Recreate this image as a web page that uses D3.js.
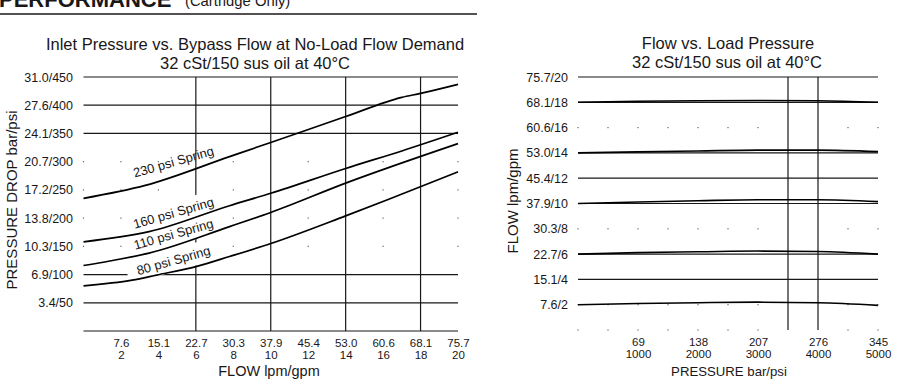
<!DOCTYPE html>
<html>
<head>
<meta charset="utf-8">
<script src="https://cdn.jsdelivr.net/npm/d3@7"></script>
<style>
  body { margin: 0; background: #fff; }
  svg { display: block; font-family: "Liberation Sans", Arial, Helvetica, sans-serif; }
</style>
</head>
<body>
<div id="chart"></div>
<script>
// tick values / labels
const flowGpm = [2, 4, 6, 8, 10, 12, 14, 16, 18, 20];
const flowLpm = ["7.6", "15.1", "22.7", "30.3", "37.9", "45.4", "53.0", "60.6", "68.1", "75.7"];
const dropPsi = [50, 100, 150, 200, 250, 300, 350, 400, 450];
const dropBar = ["3.4", "6.9", "10.3", "13.8", "17.2", "20.7", "24.1", "27.6", "31.0"];
const loadPsi = [1000, 2000, 3000, 4000, 5000];
const loadBar = ["69", "138", "207", "276", "345"];

// left chart: [flow gpm, pressure drop psi]
const springNames = ["230 psi Spring", "160 psi Spring", "110 psi Spring", "80 psi Spring"];
const spring230 = [[0, 235], [3.3, 258], [7.8, 309], [10, 334], [14, 380], [17, 414], [18, 421], [20, 437]];
const spring160 = [[0, 158], [3.5, 176], [7.8, 222], [10, 244], [14, 288], [17, 319], [20, 352]];
const spring110 = [[0, 116], [1.4, 124], [3.5, 138], [7.8, 185], [10, 210], [14, 262], [20, 332]];
const spring80 = [[0, 80], [2.6, 90], [3.9, 99], [6.1, 115], [7.8, 132], [10, 155], [14, 204], [16.2, 232], [20, 282]];

// right chart: [load pressure psi, flow gpm]
const flow18 = [[0, 18.0], [1000, 18.08], [2000, 18.12], [3000, 18.14], [4000, 18.12], [5000, 18.0]];
const flow14 = [[0, 14.0], [1000, 14.08], [2000, 14.15], [3000, 14.22], [4000, 14.22], [5000, 14.1]];
const flow10 = [[0, 10.0], [1000, 10.12], [2000, 10.22], [3000, 10.3], [4000, 10.3], [5000, 10.15]];
const flow6 = [[0, 6.0], [1000, 6.12], [2000, 6.18], [3000, 6.24], [4000, 6.2], [5000, 6.0]];
const flow2 = [[0, 2.0], [1000, 2.1], [2000, 2.16], [3000, 2.2], [4000, 2.16], [5000, 1.95]];

const W = 898, H = 379;
const ink = "#1a1718";

const svg = d3.select("#chart").append("svg")
  .attr("width", W)
  .attr("height", H);

// header (cut off at top of the page, as in the source)
svg.append("text")
  .attr("x", -1).attr("y", 6.5)
  .attr("font-size", 22).attr("font-weight", "bold")
  .attr("fill", ink)
  .text("PERFORMANCE");
svg.append("text")
  .attr("x", 185).attr("y", 6)
  .attr("font-size", 14.8)
  .attr("fill", ink)
  .text("(Cartridge Only)");

svg.append("line")
  .attr("x1", 0).attr("x2", 477)
  .attr("y1", 14).attr("y2", 14)
  .attr("stroke", ink).attr("stroke-width", 1.5);

function grid(g, x, y, solidRows, dotRows, vLines, dotStep) {
  const [x0, x1] = x.domain();
  const [y0, y1] = y.domain();
  g.selectAll(".hrow").data(solidRows).enter().append("line")
    .attr("x1", x(x0)).attr("x2", x(x1))
    .attr("y1", d => y(d)).attr("y2", d => y(d))
    .attr("stroke", ink).attr("stroke-width", 1.2);
  g.selectAll(".vcol").data(vLines).enter().append("line")
    .attr("x1", d => x(d)).attr("x2", d => x(d))
    .attr("y1", y(y0)).attr("y2", y(y1))
    .attr("stroke", ink).attr("stroke-width", 1.2);
  const dots = [];
  dotRows.forEach(r => d3.range(x0, x1 + 1e-9, dotStep).forEach(c => {
    if (!vLines.includes(c)) dots.push([c, r]);
  }));
  g.selectAll(".dot").data(dots).enter().append("rect")
    .attr("x", d => x(d[0]) - 0.6).attr("y", d => y(d[1]) - 0.6)
    .attr("width", 1.2).attr("height", 1.2)
    .attr("fill", "#666");
}

function styleAxis(g) {
  g.attr("font-family", null).attr("font-size", 12.5);
  g.select(".domain").remove();
  g.selectAll(".tick line").remove();
  g.selectAll(".tick text").attr("fill", ink);
}

function twoLineX(g, top, bottom) {
  g.attr("font-size", 11.5);
  g.selectAll(".tick text").each(function (d, i) {
    const t = d3.select(this).attr("y", 0).attr("dy", null).text(null);
    t.append("tspan").attr("x", 0).attr("y", 15.5).text(top[i]);
    t.append("tspan").attr("x", 0).attr("y", 28).text(bottom[i]);
  });
}

// ---------- left chart ----------
const xL = d3.scaleLinear().domain([0, 20]).range([83.5, 458]);
const yL = d3.scaleLinear().domain([0, 450]).range([331, 77]);
const left = svg.append("g");

grid(left, xL, yL, [0, 50, 100, 350, 400, 450], [150, 200, 250, 300], [6, 10, 14, 18], 2);

left.append("g")
  .attr("transform", `translate(${xL(0)},0)`)
  .call(d3.axisLeft(yL).tickValues(dropPsi).tickSize(0).tickPadding(10.5)
    .tickFormat((d, i) => dropBar[i] + "/" + d))
  .call(styleAxis);

left.append("g")
  .attr("transform", `translate(0,${yL(0)})`)
  .call(d3.axisBottom(xL).tickValues(flowGpm).tickSize(0))
  .call(styleAxis)
  .call(g => twoLineX(g, flowLpm, flowGpm));

const springs = [spring230, spring160, spring110, spring80];

// spring labels sit above their curve; lower three get a white patch behind
const labelAt = 4.8;
const interp = (s, v) => {
  for (let i = 1; i < s.length; i++) {
    if (v <= s[i][0]) {
      const t = (v - s[i - 1][0]) / (s[i][0] - s[i - 1][0]);
      return s[i - 1][1] + t * (s[i][1] - s[i - 1][1]);
    }
  }
  return s[s.length - 1][1];
};
const labels = left.append("g").selectAll("g").data(springs).enter().append("g")
  .attr("transform", (d, i) => `translate(${xL(labelAt)},${yL(interp(d, labelAt)) - (i === 0 ? 14 : 11)}) rotate(-16)`);
labels.each(function (d, i) {
  if (i === 0) return;
  const g = d3.select(this);
  g.append("rect")
    .attr("x", -48).attr("y", -11)
    .attr("width", 96).attr("height", 22)
    .attr("fill", "#fff");
});

const lineL = d3.line().x(d => xL(d[0])).y(d => yL(d[1])).curve(d3.curveMonotoneX);
left.append("g").selectAll("path").data(springs).enter().append("path")
  .attr("d", lineL)
  .attr("fill", "none").attr("stroke", "#000").attr("stroke-width", 1.7);

left.append("g").selectAll("text").data(springs).enter().append("text")
  .attr("transform", (d, i) => `translate(${xL(labelAt)},${yL(interp(d, labelAt)) - (i === 0 ? 14 : 11)}) rotate(-16)`)
  .attr("text-anchor", "middle").attr("dy", "0.35em")
  .attr("font-size", 13).attr("fill", ink)
  .text((d, i) => springNames[i]);

left.append("text")
  .attr("x", 255).attr("y", 50)
  .attr("text-anchor", "middle").attr("font-size", 16.5).attr("fill", ink)
  .text("Inlet Pressure vs. Bypass Flow at No-Load Flow Demand");
left.append("text")
  .attr("x", 255).attr("y", 69)
  .attr("text-anchor", "middle").attr("font-size", 16.5).attr("fill", ink)
  .text("32 cSt/150 sus oil at 40°C");

left.append("text")
  .attr("transform", "translate(17,200) rotate(-90)")
  .attr("text-anchor", "middle").attr("font-size", 15).attr("fill", ink)
  .text("PRESSURE DROP bar/psi");
left.append("text")
  .attr("x", 269).attr("y", 376)
  .attr("text-anchor", "middle").attr("font-size", 14.5).attr("fill", ink)
  .text("FLOW lpm/gpm");

// ---------- right chart ----------
const xR = d3.scaleLinear().domain([0, 5000]).range([578, 878]);
const yR = d3.scaleLinear().domain([0, 20]).range([330, 77]);
const right = svg.append("g");

grid(right, xR, yR, [4, 6, 10, 12, 14, 18, 20], [0, 2, 8, 16], [3500, 4000], 500);

right.append("g")
  .attr("transform", `translate(${xR(0)},0)`)
  .call(d3.axisLeft(yR).tickValues(flowGpm).tickSize(0).tickPadding(10)
    .tickFormat((d, i) => flowLpm[i] + "/" + d))
  .call(styleAxis);

right.append("g")
  .attr("transform", `translate(0,${yR(0)})`)
  .call(d3.axisBottom(xR).tickValues(loadPsi).tickSize(0))
  .call(styleAxis)
  .call(g => twoLineX(g, loadBar, loadPsi));

const lineR = d3.line().x(d => xR(d[0])).y(d => yR(d[1])).curve(d3.curveMonotoneX);
right.append("g").selectAll("path").data([flow18, flow14, flow10, flow6, flow2]).enter().append("path")
  .attr("d", lineR)
  .attr("fill", "none").attr("stroke", "#000").attr("stroke-width", 1.6);

right.append("text")
  .attr("x", 728).attr("y", 49)
  .attr("text-anchor", "middle").attr("font-size", 16.5).attr("fill", ink)
  .text("Flow vs. Load Pressure");
right.append("text")
  .attr("x", 727).attr("y", 68)
  .attr("text-anchor", "middle").attr("font-size", 16.5).attr("fill", ink)
  .text("32 cSt/150 sus oil at 40°C");

right.append("text")
  .attr("transform", "translate(518,201) rotate(-90)")
  .attr("text-anchor", "middle").attr("font-size", 15).attr("fill", ink)
  .text("FLOW lpm/gpm");
right.append("text")
  .attr("x", 729).attr("y", 376)
  .attr("text-anchor", "middle").attr("font-size", 13.2).attr("fill", ink)
  .text("PRESSURE bar/psi");
</script>
</body>
</html>
